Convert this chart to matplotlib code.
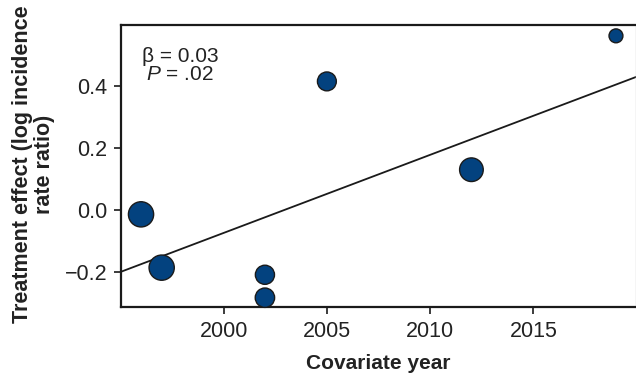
import numpy as np
import matplotlib
matplotlib.use('Agg')
import matplotlib.pyplot as plt

plt.rcParams['font.family'] = ['Liberation Sans', 'DejaVu Sans']
plt.rcParams['mathtext.fontset'] = 'custom'
plt.rcParams['mathtext.it'] = 'Liberation Sans:italic'
plt.rcParams['mathtext.rm'] = 'Liberation Sans'

# study points: covariate year, treatment effect, relative weight (marker area)
years = [1996, 1997, 2002, 2002, 2005, 2012, 2019]
effects = [-0.014, -0.186, -0.209, -0.283, 0.415, 0.130, 0.562]
sizes = [330, 330, 190, 195, 185, 290, 100]

# meta-regression line
slope = 0.0252
value_2000 = -0.074

xticks = [2000, 2005, 2010, 2015]
yticks = [-0.2, 0.0, 0.2, 0.4]
ytick_labels = ['\u22120.2', '0.0', '0.2', '0.4']

fig = plt.figure(figsize=(6.36, 3.81), dpi=100)
ax = fig.add_axes([121 / 636, 1 - 307 / 381, 515 / 636, 282 / 381])

xlim = (1995.03, 2019.97)
xs = np.array(xlim)
ax.plot(xs, value_2000 + slope * (xs - 2000), color='#1a1a1a', lw=1.3, zorder=2)

ax.scatter(years, effects, s=sizes, color='#03427f', edgecolor='#1a1a1a',
           linewidth=1.0, zorder=3, clip_on=False)

ax.set_xlim(*xlim)
ax.set_ylim(-0.313, 0.597)
ax.set_xticks(xticks)
ax.set_yticks(yticks)
ax.set_yticklabels(ytick_labels)
ax.tick_params(axis='both', labelsize=15.5, length=5, width=1.2, color='#1a1a1a',
               labelcolor='#222222', pad=5)

for side in ['left', 'bottom', 'top']:
    ax.spines[side].set_linewidth(1.6)
    ax.spines[side].set_color('#1a1a1a')
ax.spines['right'].set_color('#cccccc')
ax.spines['right'].set_linewidth(1.0)

ax.set_xlabel('Covariate year', fontsize=15, fontweight='bold', color='#222222', va='center')
ax.xaxis.set_label_coords(0.5, -0.2)
ax.set_ylabel('Treatment effect (log incidence\nrate ratio)', fontsize=15.5, fontweight='bold',
              color='#222222', va='center', linespacing=1.1)
ax.yaxis.set_label_coords(-0.17, 0.505)

ax.text(180, 381 - 56, '\u03b2 = 0.03', transform=None, fontsize=15, color='#222222',
        ha='center', va='center')
ax.text(180, 381 - 74, '$\\it{P}$ = .02', transform=None, fontsize=15, color='#222222',
        ha='center', va='center')

fig.savefig('out.png', dpi=100)
